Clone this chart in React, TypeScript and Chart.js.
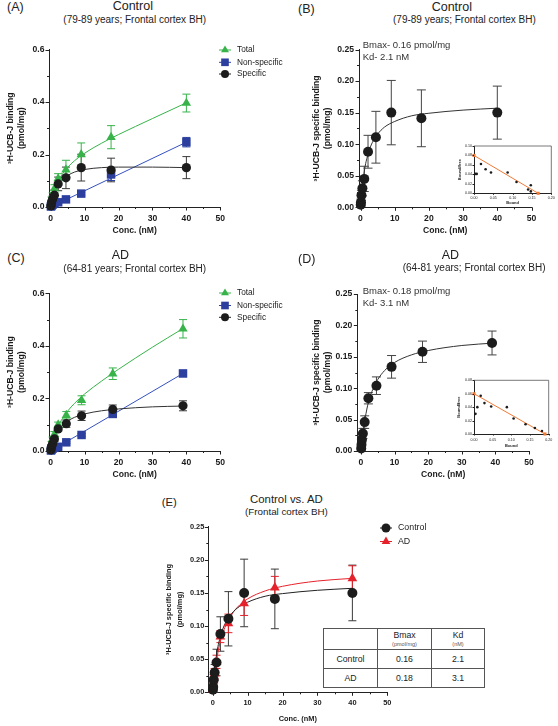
import React, { useEffect, useRef } from 'react';
import { Chart, registerables } from 'chart.js';

Chart.register(...registerables);

const FONT = "'Liberation Sans', Arial, Helvetica, sans-serif";

// ---------------- data ----------------
const concControl = [0.07, 0.14, 0.28, 0.56, 1.1, 2.2, 4.5, 9, 17.8, 40];
const concAD = [0.07, 0.14, 0.28, 0.56, 1.1, 2.2, 4.6, 9.1, 18.3, 39];

const ctrlTotal = [0.010, 0.019, 0.030, 0.044, 0.070, 0.108, 0.142, 0.200, 0.266, 0.396];
const ctrlTotalSem = [0.004, 0.006, 0.008, 0.010, 0.015, 0.019, 0.036, 0.044, 0.044, 0.034];
const ctrlNonspec = [0.002, 0.004, 0.006, 0.009, 0.013, 0.018, 0.029, 0.051, 0.124, 0.247];
const ctrlNonspecSem = [0.001, 0.001, 0.002, 0.002, 0.003, 0.004, 0.005, 0.006, 0.023, 0.018];
const ctrlSpecific = [0.004, 0.008, 0.019, 0.030, 0.045, 0.088, 0.111, 0.150, 0.141, 0.150];
const ctrlSpecificSem = [0.003, 0.005, 0.008, 0.012, 0.020, 0.026, 0.041, 0.051, 0.045, 0.042];

const adTotal = [0.010, 0.020, 0.030, 0.045, 0.064, 0.100, 0.136, 0.193, 0.294, 0.465];
const adTotalSem = [0.003, 0.004, 0.006, 0.008, 0.010, 0.010, 0.014, 0.017, 0.022, 0.035];
const adNonspec = [0.002, 0.004, 0.006, 0.009, 0.012, 0.016, 0.033, 0.061, 0.141, 0.295];
const adNonspecSem = [0.001, 0.001, 0.002, 0.002, 0.002, 0.003, 0.004, 0.005, 0.006, 0.012];
const adSpecific = [0.004, 0.010, 0.018, 0.028, 0.046, 0.084, 0.104, 0.134, 0.158, 0.172];
const adSpecificSem = [0.002, 0.004, 0.005, 0.008, 0.010, 0.009, 0.014, 0.018, 0.017, 0.019];

// fitted curves
const fitX = [0, 0.5, 1, 1.5, 2, 3, 4, 5, 7, 10, 15, 20, 30, 40];
const fitXAD = [0, 0.5, 1, 1.5, 2, 3, 4, 5, 7, 10, 15, 20, 30, 39];
const ctrlSpecFitA = [0, 0.028, 0.050, 0.067, 0.080, 0.098, 0.110, 0.120, 0.133, 0.143, 0.150, 0.152, 0.152, 0.150];
const ctrlTotalFit = [0, 0.031, 0.056, 0.076, 0.092, 0.117, 0.135, 0.151, 0.176, 0.205, 0.243, 0.276, 0.337, 0.397];
const ctrlNonspecFitX = [0, 40];
const ctrlNonspecFitY = [0, 0.247];
const ctrlSpecFit = [0, 0.032, 0.053, 0.069, 0.080, 0.097, 0.108, 0.116, 0.127, 0.136, 0.145, 0.149, 0.154, 0.157];
const adSpecFit = [0, 0.026, 0.045, 0.060, 0.073, 0.091, 0.104, 0.114, 0.128, 0.141, 0.153, 0.160, 0.168, 0.172];
const adSpecFitC = [0, 0.026, 0.045, 0.060, 0.073, 0.091, 0.104, 0.114, 0.128, 0.141, 0.153, 0.160, 0.168, 0.171];
const adTotalFit = [0, 0.030, 0.053, 0.072, 0.088, 0.114, 0.134, 0.152, 0.181, 0.217, 0.266, 0.311, 0.395, 0.466];
const adNonspecFitX = [0, 39];
const adNonspecFitY = [0, 0.295];

// Scatchard insets
const scatBoundCtrl = [0.003, 0.007, 0.018, 0.030, 0.044, 0.087, 0.110, 0.140, 0.147, 0.147];
const scatRatioCtrl = [0.041, 0.041, 0.062, 0.051, 0.044, 0.044, 0.024, 0.008, 0.017, 0.004];
const scatLineCtrlX = [0, 0.166];
const scatLineCtrlY = [0.080, 0];
const scatBoundAD = [0.004, 0.009, 0.018, 0.028, 0.046, 0.088, 0.106, 0.138, 0.163, 0.182];
const scatRatioAD = [0.030, 0.040, 0.057, 0.046, 0.041, 0.040, 0.023, 0.0145, 0.009, 0.0045];
const scatLineADX = [0, 0.19];
const scatLineADY = [0.060, 0];

// ticks
const concTicks = [0, 10, 20, 30, 40, 50];
const concMinor = [5, 15, 25, 35, 45];
const totalTicks = [0, 0.2, 0.4, 0.6];
const totalMinor = [0.1, 0.3, 0.5];
const specTicks = [0, 0.05, 0.1, 0.15, 0.2, 0.25];
const specMinor = [0.025, 0.075, 0.125, 0.175, 0.225];
const boundTicks = [0, 0.05, 0.1, 0.15, 0.2];
const ratioTicksCtrl = [0, 0.02, 0.04, 0.06, 0.08, 0.1];
const ratioTicksAD = [0, 0.02, 0.04, 0.06, 0.08];

// table
const tableGroups = ['Control', 'AD'];
const tableBmax = ['0.16', '0.18'];
const tableKd = ['2.1', '3.1'];

// ---------------- colours ----------------
const GREEN = '#37b34a';
const BLUE = '#2c3f9f';
const BLUE_LINE = '#3550c0';
const BLACK = '#1c1c1c';
const ERR = '#3a3a3a';
const RED = '#e5222b';
const ORANGE = '#f07a36';
const AXIS = '#222';

const xy = (xs: number[], ys: number[]) => xs.map((x, i) => ({ x, y: ys[i] }));

function pts(xs: number[], ys: number[], style: string, r: number, color: string, errors?: number[], errColor?: string, cap?: number) {
  return {
    data: xy(xs, ys), showLine: false, pointStyle: style, pointRadius: r, pointHoverRadius: r,
    pointBackgroundColor: color, pointBorderColor: color, pointBorderWidth: 0,
    borderColor: color, backgroundColor: color, clip: false,
    errors, errorColor: errColor || color, capWidth: cap || 8,
  };
}
function curve(xs: number[], ys: number[], color: string, w = 1) {
  return {
    data: xy(xs, ys), showLine: true, pointRadius: 0, pointHoverRadius: 0, borderColor: color,
    backgroundColor: color, borderWidth: w, cubicInterpolationMode: 'monotone', clip: false, fill: false,
  };
}

// ---------------- plugins ----------------
const errorBarPlugin = {
  id: 'errorBars',
  beforeDatasetsDraw(chart: any) {
    const { ctx, scales } = chart;
    const xs = scales.x, ys = scales.y;
    chart.data.datasets.forEach((ds: any) => {
      if (!ds.errors) return;
      ctx.save();
      ctx.strokeStyle = ds.errorColor;
      ctx.lineWidth = 1;
      ds.data.forEach((p: any, j: number) => {
        const e = ds.errors[j];
        if (!e) return;
        const px = xs.getPixelForValue(p.x);
        const yTop = ys.getPixelForValue(p.y + e);
        const low = Math.max(p.y - e, ys.min);
        const yBot = ys.getPixelForValue(low);
        const c = ds.capWidth / 2;
        ctx.beginPath();
        ctx.moveTo(px, yTop); ctx.lineTo(px, yBot);
        ctx.moveTo(px - c, yTop); ctx.lineTo(px + c, yTop);
        if (p.y - e > ys.min) { ctx.moveTo(px - c, yBot); ctx.lineTo(px + c, yBot); }
        ctx.stroke();
      });
      ctx.restore();
    });
  },
};

function drawMarker(ctx: any, style: string, x: number, y: number, r: number, color: string) {
  ctx.fillStyle = color;
  ctx.beginPath();
  if (style === 'circle') ctx.arc(x, y, r, 0, Math.PI * 2);
  else if (style === 'triangle') {
    ctx.moveTo(x, y - r); ctx.lineTo(x + r * 0.866, y + r * 0.5); ctx.lineTo(x - r * 0.866, y + r * 0.5); ctx.closePath();
  } else { const h = r * Math.SQRT1_2; ctx.rect(x - h, y - h, 2 * h, 2 * h); }
  ctx.fill();
}

type Rect = { left: number; top: number; right: number; bottom: number };
type LegendItem = { label: string; color: string; style: string; r: number };
interface AxisSpec {
  min: number; max: number; major: number[]; minor: number[]; decimals: number;
  title: string | string[]; pad: number; titlePad?: number;
}
interface PlotSpec {
  canvas: Rect; area: Rect; x: AxisSpec; y: AxisSpec;
  tickFont: number; titleFont: number; yTitleLH?: number; tickWeight?: string; titleWeight?: string;
  tickLen: number; minorLen: number; datasets: any[];
  legend?: { markerX: number; textX: number; rows: number[]; font: number; half: number; items: LegendItem[] };
  frame?: boolean;
}

function makeTicksPlugin(s: PlotSpec) {
  return {
    id: 'axisTicks',
    afterDraw(chart: any) {
      const { ctx, chartArea: a, scales } = chart;
      ctx.save();
      ctx.strokeStyle = AXIS;
      ctx.lineWidth = 1;
      ctx.beginPath();
      const xt = (v: number, len: number) => {
        const p = Math.round(scales.x.getPixelForValue(v)) + 0.5;
        ctx.moveTo(p, a.bottom); ctx.lineTo(p, a.bottom + len);
      };
      const yt = (v: number, len: number) => {
        const p = Math.round(scales.y.getPixelForValue(v)) + 0.5;
        ctx.moveTo(a.left, p); ctx.lineTo(a.left - len, p);
      };
      s.x.major.forEach((v) => xt(v, s.tickLen));
      s.x.minor.forEach((v) => xt(v, s.minorLen));
      s.y.major.forEach((v) => yt(v, s.tickLen));
      s.y.minor.forEach((v) => yt(v, s.minorLen));
      ctx.stroke();
      if (s.frame) {
        ctx.strokeStyle = '#555';
        ctx.lineWidth = 0.8;
        ctx.beginPath();
        ctx.moveTo(a.left, a.top); ctx.lineTo(a.right, a.top); ctx.lineTo(a.right, a.bottom);
        ctx.stroke();
      }
      ctx.restore();
    },
  };
}

function makeLegendPlugin(s: PlotSpec) {
  return {
    id: 'customLegend',
    afterDraw(chart: any) {
      const lg = s.legend;
      if (!lg) return;
      const ctx = chart.ctx;
      const ox = s.canvas.left, oy = s.canvas.top;
      ctx.save();
      lg.items.forEach((it, i) => {
        const x = lg.markerX - ox, y = lg.rows[i] - oy;
        ctx.strokeStyle = it.color;
        ctx.lineWidth = 1;
        ctx.beginPath(); ctx.moveTo(x - lg.half, y); ctx.lineTo(x + lg.half, y); ctx.stroke();
        drawMarker(ctx, it.style, x, y, it.r, it.color);
        ctx.fillStyle = '#222';
        ctx.font = `${lg.font}px ${FONT}`;
        ctx.textBaseline = 'middle';
        ctx.textAlign = 'left';
        ctx.fillText(it.label, lg.textX - ox, y);
      });
      ctx.restore();
    },
  };
}

function buildConfig(s: PlotSpec) {
  const c = s.canvas, a = s.area;
  const tickFont = { family: FONT, size: s.tickFont, weight: s.tickWeight || 'bold' };
  const titleFont = { family: FONT, size: s.titleFont, weight: s.titleWeight || 'bold', lineHeight: 1.2 };
  const yTitleFont = { ...titleFont, lineHeight: s.yTitleLH || 1.2 };
  return {
    type: 'scatter',
    data: { datasets: s.datasets },
    options: {
      animation: false, responsive: false, maintainAspectRatio: false, devicePixelRatio: 1, events: [],
      layout: { padding: { left: 0, top: a.top - c.top, right: c.right - a.right, bottom: 0 } },
      plugins: { legend: { display: false }, tooltip: { enabled: false } },
      scales: {
        x: {
          type: 'linear', position: 'bottom', min: s.x.min, max: s.x.max,
          afterBuildTicks: (sc: any) => { sc.ticks = s.x.major.map((v) => ({ value: v })); },
          afterFit: (sc: any) => { sc.height = c.bottom - a.bottom; },
          ticks: {
            padding: s.x.pad, font: tickFont, color: '#1a1a1a', autoSkip: false, maxRotation: 0,
            callback: (v: any) => Number(v).toFixed(s.x.decimals),
          },
          grid: { display: false, drawTicks: false },
          border: { display: true, color: AXIS, width: 1 },
          title: { display: true, text: s.x.title, font: titleFont, color: '#1a1a1a', padding: { top: 0, bottom: 0 } },
        },
        y: {
          type: 'linear', position: 'left', min: s.y.min, max: s.y.max,
          afterBuildTicks: (sc: any) => { sc.ticks = s.y.major.map((v) => ({ value: v })); },
          afterFit: (sc: any) => { sc.width = a.left - c.left; },
          ticks: {
            padding: s.y.pad, font: tickFont, color: '#1a1a1a', autoSkip: false,
            callback: (v: any) => Number(v).toFixed(s.y.decimals),
          },
          grid: { display: false, drawTicks: false },
          border: { display: true, color: AXIS, width: 1 },
          title: { display: true, text: s.y.title, font: yTitleFont, color: '#1a1a1a', padding: { top: s.y.titlePad || 0, bottom: 0 } },
        },
      },
    },
    plugins: [errorBarPlugin, makeTicksPlugin(s), makeLegendPlugin(s)],
  };
}

// ---------------- panel specs ----------------
const yTitleTotal = ['\u00B3H-UCB-J binding', '(pmol/mg)'];
const yTitleSpec = ['\u00B3H-UCB-J specific binding', '(pmol/mg)'];

const specA: PlotSpec = {
  canvas: { left: 0, top: 38, right: 290, bottom: 236 },
  area: { left: 49, top: 49.5, right: 220.3, bottom: 207 },
  x: { min: -0.5, max: 50, major: concTicks, minor: concMinor, decimals: 0, title: 'Conc. (nM)', pad: 6 },
  y: { min: 0, max: 0.6, major: totalTicks, minor: totalMinor, decimals: 1, title: yTitleTotal, pad: 4.5, titlePad: 5.7 },
  tickFont: 8.6, titleFont: 8.6, tickLen: 3.5, minorLen: 2,
  datasets: [
    pts(concControl, ctrlSpecific, 'circle', 4.6, BLACK, ctrlSpecificSem, ERR, 8),
    pts(concControl, ctrlNonspec, 'rect', 6, BLUE, ctrlNonspecSem, BLUE, 8),
    pts(concControl, ctrlTotal, 'triangle', 5.4, GREEN, ctrlTotalSem, GREEN, 8),
    curve(fitX, ctrlSpecFitA, '#333'),
    curve(ctrlNonspecFitX, ctrlNonspecFitY, BLUE_LINE),
    curve(fitX, ctrlTotalFit, GREEN),
  ],
  legend: {
    markerX: 225, textX: 237, rows: [50, 62.3, 74], font: 8.3, half: 6,
    items: [
      { label: 'Total', color: GREEN, style: 'triangle', r: 4.6 },
      { label: 'Non-specific', color: BLUE, style: 'rect', r: 5.4 },
      { label: 'Specific', color: BLACK, style: 'circle', r: 4 },
    ],
  },
};

const specC: PlotSpec = {
  ...specA,
  canvas: { left: 0, top: 282, right: 290, bottom: 480 },
  area: { left: 49, top: 293.3, right: 220.3, bottom: 451 },
  datasets: [
    pts(concAD, adSpecific, 'circle', 4.6, BLACK, adSpecificSem, ERR, 8),
    pts(concAD, adNonspec, 'rect', 6, BLUE, adNonspecSem, BLUE, 8),
    pts(concAD, adTotal, 'triangle', 5.4, GREEN, adTotalSem, GREEN, 8),
    curve(fitXAD, adSpecFitC, '#333'),
    curve(adNonspecFitX, adNonspecFitY, BLUE_LINE),
    curve(fitXAD, adTotalFit, GREEN),
  ],
  legend: { ...(specA.legend as any), rows: [293, 305.5, 317.3] },
};

const specB: PlotSpec = {
  canvas: { left: 306, top: 38, right: 556, bottom: 236 },
  area: { left: 359, top: 49.5, right: 531.5, bottom: 207.3 },
  x: { min: -0.44, max: 50, major: concTicks, minor: concMinor, decimals: 0, title: 'Conc. (nM)', pad: 6 },
  y: { min: 0, max: 0.25, major: specTicks, minor: specMinor, decimals: 2, title: yTitleSpec, pad: 5, titlePad: 5.8 },
  tickFont: 8.6, titleFont: 8.6, tickLen: 3.5, minorLen: 2,
  datasets: [
    pts(concControl, ctrlSpecific, 'circle', 5, BLACK, ctrlSpecificSem, '#444', 9),
    curve(fitX, ctrlSpecFit, '#333'),
  ],
};

const specD: PlotSpec = {
  ...specB,
  canvas: { left: 306, top: 283, right: 556, bottom: 480 },
  area: { left: 357.3, top: 294, right: 529, bottom: 451 },
  x: { ...specB.x, min: -1.1 },
  datasets: [
    pts(concAD, adSpecific, 'circle', 5, BLACK, adSpecificSem, '#444', 9),
    curve(fitX, adSpecFit, '#333'),
  ],
};

const specE: PlotSpec = {
  canvas: { left: 160, top: 518, right: 440, bottom: 723 },
  area: { left: 208.3, top: 526.7, right: 387.3, bottom: 692.3 },
  x: { min: -1.26, max: 50, major: concTicks, minor: concMinor, decimals: 0, title: 'Conc. (nM)', pad: 6 },
  y: { min: 0, max: 0.25, major: specTicks, minor: specMinor, decimals: 2, title: yTitleSpec, pad: 4, titlePad: 3.6 },
  tickFont: 7.4, titleFont: 7.4, yTitleLH: 1.45, tickLen: 3.5, minorLen: 2,
  datasets: [
    pts(concControl, ctrlSpecific, 'circle', 5, BLACK, ctrlSpecificSem, ERR, 8),
    pts(concControl, adSpecific, 'triangle', 5.6, RED, adSpecificSem, RED, 8),
    curve(fitX, ctrlSpecFit, '#222'),
    curve(fitX, adSpecFit, RED),
  ],
  legend: {
    markerX: 386, textX: 398, rows: [528, 541.5], font: 8.8, half: 6,
    items: [
      { label: 'Control', color: BLACK, style: 'circle', r: 4.5 },
      { label: 'AD', color: RED, style: 'triangle', r: 5 },
    ],
  },
};

const specBi: PlotSpec = {
  canvas: { left: 455, top: 139, right: 557, bottom: 205 },
  area: { left: 474, top: 146, right: 552, bottom: 193.3 },
  x: { min: 0, max: 0.2, major: boundTicks, minor: [], decimals: 2, title: 'Bound', pad: 2.2 },
  y: { min: 0, max: 0.1, major: ratioTicksCtrl, minor: [], decimals: 2, title: ['Bound/free'], pad: 2, titlePad: 2.6 },
  tickFont: 3.6, tickWeight: 'normal', titleFont: 4, tickLen: 1.5, minorLen: 1, frame: true,
  datasets: [
    pts(scatLineCtrlX, scatLineCtrlY, 'rect', 2.2, ORANGE),
    pts(scatBoundCtrl, scatRatioCtrl, 'circle', 1.3, BLACK),
    curve(scatLineCtrlX, scatLineCtrlY, ORANGE, 1),
  ],
};

const specDi: PlotSpec = {
  ...specBi,
  canvas: { left: 455, top: 374, right: 556, bottom: 448 },
  area: { left: 474, top: 380.3, right: 550, bottom: 434 },
  x: { ...specBi.x, pad: 3.8 },
  y: { ...specBi.y, max: 0.08, major: ratioTicksAD, titlePad: 1.6 },
  datasets: [
    pts(scatLineADX, scatLineADY, 'rect', 2.2, ORANGE),
    pts(scatBoundAD, scatRatioAD, 'circle', 1.3, BLACK),
    curve(scatLineADX, scatLineADY, ORANGE, 1),
  ],
};

// ---------------- components ----------------
function Plot({ spec }: { spec: PlotSpec }) {
  const ref = useRef<HTMLCanvasElement>(null);
  const c = spec.canvas;
  const w = c.right - c.left, h = c.bottom - c.top;
  useEffect(() => {
    const chart = new Chart(ref.current as HTMLCanvasElement, buildConfig(spec) as any);
    return () => chart.destroy();
  }, [spec]);
  return (
    <canvas ref={ref} width={w} height={h}
      style={{ position: 'absolute', left: c.left, top: c.top, width: w, height: h }} />
  );
}

function Txt({ x, cy, size, children, color = '#222', bold = false }: any) {
  return (
    <div style={{
      position: 'absolute', left: x, top: cy - size * 0.64, fontSize: size, lineHeight: `${size * 1.2}px`,
      fontFamily: FONT, color, whiteSpace: 'nowrap', fontWeight: bold ? 'bold' : 'normal',
    }}>{children}</div>
  );
}

function StatsTable() {
  const cell = (w: number): React.CSSProperties => ({
    width: w, border: '1px solid #555', textAlign: 'center', verticalAlign: 'middle', padding: 0,
  });
  return (
    <div style={{ position: 'absolute', left: 323, top: 628, background: '#fff' }}>
      <table style={{ borderCollapse: 'collapse', fontFamily: FONT, color: '#222', fontSize: 8.7, tableLayout: 'fixed' }}>
        <tbody>
          <tr style={{ height: 21 }}>
            <td style={cell(53)}></td>
            <td style={cell(53)}>
              <div style={{ lineHeight: '9.6px' }}>Bmax</div>
              <div style={{ fontSize: 5.5, lineHeight: '6.6px', color: '#555' }}>(pmol/mg)</div>
            </td>
            <td style={cell(52)}>
              <div style={{ lineHeight: '9.6px' }}>Kd</div>
              <div style={{ fontSize: 5.5, lineHeight: '6.6px', color: '#555' }}>(nM)</div>
            </td>
          </tr>
          {tableGroups.map((g, i) => (
            <tr key={g} style={{ height: 19 }}>
              <td style={cell(53)}>{g}</td>
              <td style={cell(53)}>{tableBmax[i]}</td>
              <td style={cell(52)}>{tableKd[i]}</td>
            </tr>
          ))}
        </tbody>
      </table>
    </div>
  );
}

export default function App() {
  return (
    <div style={{ position: 'absolute', left: 0, top: 0, width: 558, height: 726, background: '#fff', overflow: 'hidden' }}>
      <Plot spec={specA} />
      <Plot spec={specB} />
      <Plot spec={specC} />
      <Plot spec={specD} />
      <Plot spec={specE} />
      <Plot spec={specBi} />
      <Plot spec={specDi} />

      <Txt x={7} cy={8} size={12.5}>(A)</Txt>
      <Txt x={112.7} cy={6.7} size={12.5}>Control</Txt>
      <Txt x={63.3} cy={20} size={10}>(79-89 years; Frontal cortex BH)</Txt>

      <Txt x={298} cy={10} size={12.5}>(B)</Txt>
      <Txt x={431.7} cy={7.5} size={12.5}>Control</Txt>
      <Txt x={393} cy={20} size={10}>(79-89 years; Frontal cortex BH)</Txt>
      <Txt x={362.7} cy={45} size={9.5} color="#333">Bmax- 0.16 pmol/mg</Txt>
      <Txt x={362.7} cy={57} size={9.5} color="#333">Kd- 2.1 nM</Txt>

      <Txt x={7.3} cy={259} size={12.5}>(C)</Txt>
      <Txt x={111.7} cy={255.5} size={12.5}>AD</Txt>
      <Txt x={63.3} cy={269} size={10}>(64-81 years; Frontal cortex BH)</Txt>

      <Txt x={298} cy={260} size={12.5}>(D)</Txt>
      <Txt x={441.7} cy={256} size={12.5}>AD</Txt>
      <Txt x={402.7} cy={268} size={10}>(64-81 years; Frontal cortex BH)</Txt>
      <Txt x={362.7} cy={291} size={9.5} color="#333">Bmax- 0.18 pmol/mg</Txt>
      <Txt x={362.7} cy={303} size={9.5} color="#333">Kd- 3.1 nM</Txt>

      <Txt x={161.7} cy={503} size={11.3}>(E)</Txt>
      <Txt x={250} cy={500} size={11.4}>Control vs. AD</Txt>
      <Txt x={245} cy={512.5} size={9.8}>(Frontal cortex BH)</Txt>

      <StatsTable />
    </div>
  );
}
